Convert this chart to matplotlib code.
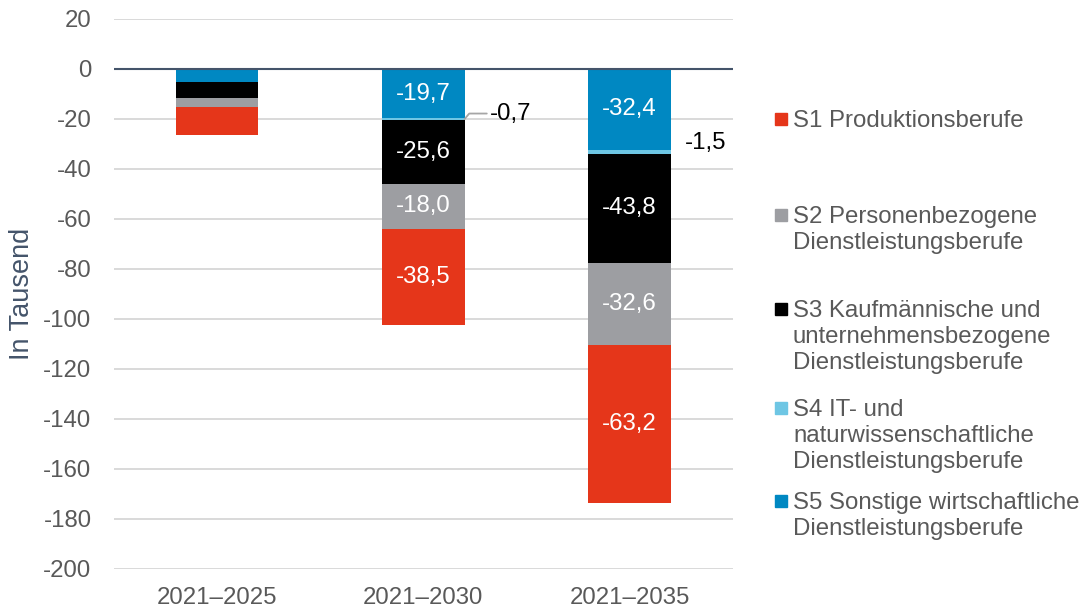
import matplotlib.pyplot as plt
from matplotlib.patches import Rectangle

plt.rcParams["font.family"] = ["Liberation Sans", "DejaVu Sans"]
plt.rcParams["axes.unicode_minus"] = False

periods = ["2021–2025", "2021–2030", "2021–2035"]
s1 = [-11.3, -38.5, -63.2]
s2 = [-3.5, -18.0, -32.6]
s3 = [-6.2, -25.6, -43.8]
s4 = [-0.2, -0.7, -1.5]
s5 = [-5.2, -19.7, -32.4]

# stacked from the zero line downwards: S5 on top, S1 at the bottom
series = [
    ("S5 Sonstige wirtschaftliche\nDienstleistungsberufe", s5, "#0088C2"),
    ("S4 IT- und\nnaturwissenschaftliche\nDienstleistungsberufe", s4, "#6EC6E4"),
    ("S3 Kaufmännische und\nunternehmensbezogene\nDienstleistungsberufe", s3, "black"),
    ("S2 Personenbezogene\nDienstleistungsberufe", s2, "#9D9EA2"),
    ("S1 Produktionsberufe", s1, "#E5361A"),
]

text_grey = "#595959"
fs = 17.3

fig = plt.figure(figsize=(10.84, 6.12), dpi=100)
ax = fig.add_axes([0.105, 0.0703, 0.571, 0.8987])

x = list(range(len(periods)))
width = 0.4
bottom = [0.0] * len(periods)
for name, vals, color in series:
    ax.bar(x, vals, width, bottom=bottom, color=color, zorder=3)
    for i, v in enumerate(vals):
        if abs(v) >= 15:
            ax.text(i, bottom[i] + v / 2, f"{v:.1f}".replace(".", ","),
                    ha="center", va="center", color="white", fontsize=fs, zorder=4)
    if name.startswith("S4"):
        for i in (1, 2):
            mid = bottom[i] + vals[i] / 2
            lbl = f"{vals[i]:.1f}".replace(".", ",")
            if i == 1:
                ax.annotate(lbl, xy=(i + width / 2, mid), xytext=(18, 4),
                            textcoords="offset points", ha="left", va="center",
                            fontsize=fs, color="black",
                            arrowprops=dict(arrowstyle="-", color="#A6A6A6", lw=1.3,
                                            connectionstyle="angle,angleA=0,angleB=50,rad=0",
                                            shrinkA=0, shrinkB=0))
            else:
                ax.annotate(lbl, xy=(i + width / 2, mid), xytext=(10, 6.5),
                            textcoords="offset points", ha="left", va="center",
                            fontsize=fs, color="black")
    bottom = [b + v for b, v in zip(bottom, vals)]

ax.set_xlim(-0.5, 2.5)
ax.set_ylim(-200, 20)
ax.set_yticks(range(-200, 21, 20))
ax.set_xticks(x)
ax.set_xticklabels(periods)
ax.grid(axis="y", color="#D9D9D9", linewidth=1.4, zorder=0)
ax.axhline(0, color="#44546A", linewidth=1.5, zorder=5)
for sp in ax.spines.values():
    sp.set_visible(False)
ax.tick_params(axis="both", length=0, labelsize=fs, labelcolor=text_grey)
ax.tick_params(axis="y", pad=16)
ax.tick_params(axis="x", pad=13)
ax.set_ylabel("In Tausend", fontsize=19.5, color="#44546A", labelpad=6)

# legend drawn by hand to keep the spread-out layout
W, H = 1084, 612
legend_rows = [119, 215, 309, 408, 501]
for (name, vals, color), row in zip(reversed(series), legend_rows):
    fig.patches.append(Rectangle((775 / W, 1 - (row + 6) / H), 12 / W, 12 / H,
                                 transform=fig.transFigure, color=color))
    fig.text(793 / W, 1 - (row - 9) / H, name, fontsize=fs, color=text_grey,
             ha="left", va="top", linespacing=1.24)

fig.savefig("out.png", dpi=100)
